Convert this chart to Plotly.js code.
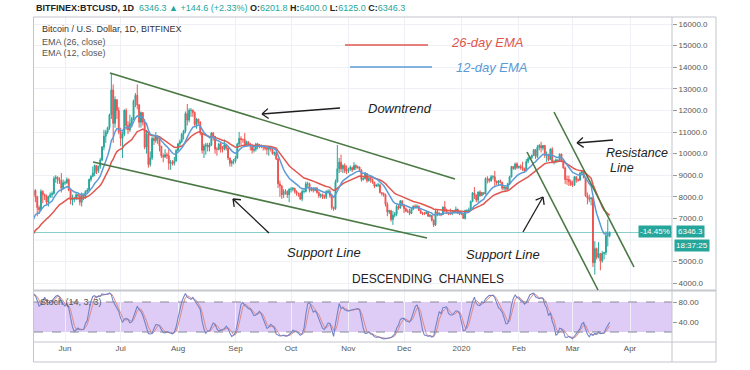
<!DOCTYPE html>
<html><head><meta charset="utf-8">
<script src="https://cdn.plot.ly/plotly-3.0.1.min.js"></script>
<style>html,body{margin:0;padding:0;background:#fff}#chart{width:750px;height:370px}</style>
</head><body><div id="chart"></div>
<script>
// ---------- DATA (daily BITFINEX BTCUSD) ----------
const startDate = '2019-04-01';
const firstOpen = 4100;
const closes = [
// Apr 2019
4150,4890,4980,4920,5050,5060,5200,5300,5190,5330,5030,5080,5080,5170,5040,5210,5250,5300,5290,5330,5300,5400,5560,5430,5250,5350,5400,5380,5360,5500,
// May
5520,5580,5850,5960,5900,5850,6050,6250,6450,6500,7150,7050,7900,8100,8300,8000,7500,7400,8250,8100,8050,7750,8000,8100,8150,8850,8900,8800,8750,8400,8650,
// Jun
8650,8800,8300,7850,7900,7900,8100,8050,7750,8100,8000,8250,8300,8800,8950,9100,9450,9200,9400,9700,10300,10800,11000,11200,11800,12950,11400,12500,12000,11000,
// Jul
10700,10900,12000,11300,11100,11400,11600,12450,12700,12250,11450,11900,11450,10300,10900,9500,9800,10700,10600,10800,10650,10350,9900,9850,9950,9900,9550,9600,9550,9650,10150,
// Aug
10450,10550,10900,11050,11850,11550,12000,12000,11900,11350,11600,11450,10950,10150,10350,10400,10300,10400,10950,10800,10200,10200,10450,10200,10200,10400,10250,9800,9550,9650,9650,
// Sep
9800,10450,10700,10650,10650,10400,10550,10450,10380,10150,10200,10450,10400,10400,10350,10300,10250,10200,10300,10200,10000,10050,9750,8600,8500,8100,8250,8250,8100,8350,
// Oct
8350,8400,8250,8150,8150,7900,8250,8250,8600,8600,8300,8350,8300,8400,8200,8050,8100,8000,7980,8250,8250,8050,7500,7450,8700,9300,9600,9300,9450,9200,9200,
// Nov
9300,9350,9250,9450,9350,9380,9250,8800,8850,9080,8750,8850,8800,8680,8500,8530,8550,8200,8150,8100,7650,7300,7350,6950,7150,7200,7550,7480,7800,7600,
// Dec
7450,7330,7320,7230,7420,7570,7540,7560,7370,7250,7230,7220,7280,7100,7140,6920,6700,7320,7180,7220,7170,7530,7340,7280,7230,7230,7280,7350,7420,7250,7200,
// Jan 2020
7230,7000,7370,7380,7380,7790,8180,8080,7850,8220,8050,8200,8130,8840,8830,8740,8920,8930,8720,8650,8740,8670,8400,8440,8350,8620,8920,9400,9310,9520,9360,
// Feb
9400,9360,9300,9200,9630,9780,9820,9920,10180,9870,10290,10370,10260,10380,9920,9950,9720,10200,9620,9630,9710,9680,9980,9670,9340,8800,8800,8700,8560,
// Mar
8550,8930,8780,8770,9090,9170,8900,8050,7950,7900,7950,4950,5600,5200,5380,5030,5370,5420,6200,6201.8,6346.3
];
const highs = [
4180,4950,5100,5050,5080,5200,5250,5350,5320,5450,5340,5120,5130,5190,5200,5230,5310,5350,5330,5360,5350,5450,5600,5600,5450,5400,5450,5420,5400,5520,
5560,5620,5900,6050,6000,5950,6100,6300,6500,6600,7300,7500,8000,8200,8400,8350,8050,7600,8350,8300,8150,8100,8050,8200,8250,8950,9000,8950,8900,9100,8800,
8750,8900,8850,8350,8100,8000,8200,8150,8100,8200,8150,8300,8400,8850,9000,9400,9500,9400,9450,9800,10350,11100,11100,11250,11850,13700,13200,12650,12400,12150,
11200,11000,12050,12100,11500,11800,11700,12500,12800,13200,12300,11950,11900,11600,11100,11000,10100,10800,10800,11000,10850,10700,10350,10000,10200,10050,10200,9700,9700,9850,10200,
10500,10650,10950,11100,11950,12300,12100,12100,12050,11950,11650,11600,11500,10950,10450,10500,10500,10500,11000,11000,10800,10300,10500,10500,10350,10650,10400,10300,9800,9700,9750,
9900,10500,11000,10800,10700,10950,10600,10550,10500,10450,10300,10500,10500,10450,10400,10400,10350,10300,10350,10350,10200,10100,10100,9800,8750,8550,8350,8350,8300,8400,
8450,8450,8400,8300,8200,8200,8350,8350,8700,8700,8650,8450,8450,8450,8450,8250,8150,8150,8100,8300,8350,8350,8100,7550,8800,10400,9800,9950,9500,9550,9450,
9350,9450,9400,9600,9500,9450,9400,9250,8900,9150,9100,8900,8900,8850,8700,8600,8650,8600,8200,8200,8150,7750,7400,7400,7350,7300,7650,7650,7850,7850,
7650,7500,7420,7450,7500,7600,7650,7650,7600,7420,7300,7300,7350,7300,7200,7150,6950,7450,7400,7300,7250,7550,7800,7450,7300,7450,7350,7400,7550,7450,7350,
7260,7250,7400,7400,7500,7820,8220,8450,8100,8250,8300,8220,8200,8900,8950,8850,9000,9000,9200,8750,8760,8800,8690,8530,8450,8630,8980,9430,9430,9580,9600,
9450,9500,9620,9350,9750,9850,9880,9950,10200,10200,10400,10450,10550,10400,10400,10100,9990,10250,10300,9700,9780,9720,10000,9990,9680,9400,8980,8980,8800,
8750,8950,8950,8850,9150,9200,9200,8900,8200,8100,7980,7980,5950,5650,5900,5400,5500,5450,6400,6950,6400
];
const lows = [
4080,4150,4800,4850,4880,5000,5050,5150,5150,5170,4980,4950,5040,5040,5000,5030,5180,5230,5250,5270,5250,5280,5380,5400,5100,5200,5320,5340,5300,5340,
5450,5480,5550,5800,5820,5700,5820,6000,6200,6350,6450,6800,6950,7600,7900,7750,7100,7200,7350,7700,7850,7650,7550,7950,7950,8100,8650,8600,8600,8200,8350,
8550,8600,8250,7650,7600,7750,7850,7850,7600,7550,7850,7900,8150,8300,8700,8900,8950,9050,9100,9300,9650,10150,10500,10900,11100,11600,10500,11200,11600,10900,
10350,9800,10800,11100,10900,11000,11200,11550,12150,12050,11200,11200,11300,10200,10000,9350,9400,9700,10400,10500,10450,10100,9800,9600,9800,9750,9250,9250,9450,9450,9650,
10100,10350,10500,10650,10950,11300,11450,11700,11700,11250,11150,11350,10850,10000,9800,9950,10100,10100,10350,10600,10000,9900,10150,10050,10050,10150,10150,9700,9400,9400,9500,
9550,9750,10350,10400,10500,10300,10350,10350,10150,10000,10050,10100,10200,10250,10250,10150,10150,9950,9900,10100,9950,9900,9700,8400,8000,7900,7950,8100,7950,7750,
8200,8250,8150,8050,8000,7850,7800,8150,8200,8450,8200,8250,8200,8250,8150,7950,7950,7900,7900,7900,8150,7950,7400,7350,7400,8650,9100,9150,9100,9100,9050,
9100,9200,9150,9250,9250,9300,9150,8700,8750,8800,8650,8700,8650,8600,8400,8450,8450,8150,8050,8000,7550,7100,7200,6850,6700,7050,7100,7400,7450,7550,
7250,7300,7250,7150,7200,7380,7500,7500,7350,7200,7150,7150,7200,7070,7050,6850,6600,6650,7100,7120,7100,7160,7300,7200,7150,7150,7150,7250,7300,7200,7150,
7150,6980,6950,7280,7300,7350,7750,7900,7750,7730,8000,8050,8080,8130,8620,8650,8700,8800,8500,8550,8500,8620,8300,8280,8280,8330,8600,8900,9250,9240,9280,
9300,9250,9200,9100,9180,9550,9700,9750,9880,9750,9800,10150,10050,10150,9800,9600,9650,9700,9550,9500,9550,9600,9650,9600,9300,8600,8550,8500,8500,
8450,8500,8650,8700,8750,9000,8850,8000,7650,7750,7600,4750,4400,5100,5150,4600,4950,5100,5300,5700,6125
];
const monthTicks = ['2019-06-01','2019-07-01','2019-08-01','2019-09-01','2019-10-01','2019-11-01','2019-12-01','2020-01-01','2020-02-01','2020-03-01','2020-04-01'];
const monthLabels = ['Jun','Jul','Aug','Sep','Oct','Nov','Dec','2020','Feb','Mar','Apr'];
// 6000.0 is hidden behind the last-price label in the reference
const priceTicks = [4000,5000,7000,8000,9000,10000,11000,12000,13000,14000,15000,16000];
const hiddenPriceGrid = [6000];
const stochTicks = [40, 80];
const stochTickLabels = ['40.00', '80.00'];
const stochBand = [20, 80];
const emaSlowLen = 26, emaFastLen = 12;
const stochLen = 14, stochK = 3, stochD = 3;
const lastPrice = 6346.3;

// ---------- derived ----------
const t0 = Date.parse(startDate + 'T00:00:00Z');
const dates = closes.map((_, i) => new Date(t0 + i * 86400000).toISOString().slice(0, 10));
const opens = closes.map((c, i) => i === 0 ? firstOpen : closes[i - 1]);
const hi = highs.map((h, i) => Math.max(h, opens[i], closes[i]));
const lo = lows.map((l, i) => Math.min(l, opens[i], closes[i]));
function ema(arr, n) { const a = 2 / (n + 1); let e = arr[0]; return arr.map((v, i) => (e = i === 0 ? v : a * v + (1 - a) * e)); }
function sma(arr, n) {
  return arr.map((v, i) => {
    if (i < n - 1) return null; let s = 0;
    for (let j = i - n + 1; j <= i; j++) { if (arr[j] === null) return null; s += arr[j]; }
    return s / n;
  });
}
const rawK = closes.map((c, i) => {
  if (i < stochLen - 1) return null; let hh = -Infinity, ll = Infinity;
  for (let j = i - stochLen + 1; j <= i; j++) { hh = Math.max(hh, hi[j]); ll = Math.min(ll, lo[j]); }
  return (c - ll) / (hh - ll) * 100;
});
const kLine = sma(rawK, stochK);
const dLine = sma(kLine, stochD);
const ema26 = ema(closes, emaSlowLen);
const ema12 = ema(closes, emaFastLen);

// ---------- pixel helpers for decorations ----------
const L = 34, R = 672, T = 17, B = 342;
const px = x => (x - L) / (R - L);
const py = y => (B - y) / (B - T);
function seg(x0, y0, x1, y1, color, width, dash) {
  return { type: 'line', xref: 'paper', yref: 'paper', x0: px(x0), y0: py(y0), x1: px(x1), y1: py(y1),
    line: { color: color, width: width, dash: dash || 'solid' } };
}
function arrow(tx, ty, hx, hy) {
  const c = '#1e1e1e', w = 1.3;
  const dx = tx - hx, dy = ty - hy, len = Math.hypot(dx, dy);
  const ux = dx / len, uy = dy / len, a = 38 * Math.PI / 180, s = 8;
  const out = [seg(tx, ty, hx, hy, c, w)];
  [a, -a].forEach(t => {
    const rx = ux * Math.cos(t) - uy * Math.sin(t), ry = ux * Math.sin(t) + uy * Math.cos(t);
    out.push(seg(hx, hy, hx + rx * s, hy + ry * s, c, w));
  });
  return out;
}
const green = '#4a7843';
const frame = '#c3c5cb';
const grid = '#eef0f5';
const shapes = [
  ...hiddenPriceGrid.map(v => ({ type: 'line', xref: 'paper', yref: 'y', x0: 0, x1: 1, y0: v, y1: v, line: { color: grid, width: 1 }, layer: 'below' })),
  { type: 'rect', xref: 'paper', yref: 'y2', x0: 0, x1: 1, y0: stochBand[0], y1: stochBand[1], fillcolor: '#decbf6', line: { width: 0 }, layer: 'below' },
  { type: 'line', xref: 'paper', yref: 'y2', x0: 0, x1: 1, y0: stochBand[1], y1: stochBand[1], line: { color: '#868a98', width: 1, dash: 'dash' } },
  { type: 'line', xref: 'paper', yref: 'y2', x0: 0, x1: 1, y0: stochBand[0], y1: stochBand[0], line: { color: '#868a98', width: 1, dash: 'dash' } },
  { type: 'line', xref: 'paper', yref: 'y', x0: 0, x1: 1, y0: lastPrice, y1: lastPrice, line: { color: 'rgba(38,166,154,0.55)', width: 1 } },
  // frame
  { type: 'rect', xref: 'paper', yref: 'paper', x0: px(33.5), x1: px(716), y0: py(362), y1: py(17), line: { color: frame, width: 1 } },
  seg(672, 17, 672, 362, frame, 1),
  seg(34, 290.5, 716, 290.5, '#c6c8cd', 2),
  seg(34, 342, 716, 342, frame, 1),
  // trend lines
  seg(110, 73, 455, 179, green, 1.6),
  seg(93, 162, 427, 238, green, 1.6),
  seg(527, 152, 598, 290, green, 1.6),
  seg(554, 112, 634, 267, green, 1.6),
  // EMA legend strokes
  seg(345, 45, 428, 45, '#e0574f', 1.5),
  seg(350, 67, 432, 67, '#5b9bd5', 1.5),
  ...arrow(340, 108, 262, 114),
  ...arrow(269, 233, 233, 199),
  ...arrow(523, 232, 543, 197),
  ...arrow(613, 140, 577, 143)
];
function note(text, x, y, opts) {
  return Object.assign({ text: text, xref: 'paper', yref: 'paper', x: px(x), y: py(y), showarrow: false,
    xanchor: 'left', yanchor: 'middle', font: { size: 9, color: '#333' } }, opts || {});
}
const teal = '#26a69a';
const sp = t => '<span style="color:' + teal + '">' + t + '</span>';
const annotations = [
  note('<b>BITFINEX:BTCUSD, 1D</b>  ' + sp('6346.3 ▲ +144.6 (+2.33%)') + ' <b>O:</b>' + sp('6201.8') + ' <b>H:</b>' + sp('6400.0') + ' <b>L:</b>' + sp('6125.0') + ' <b>C:</b>' + sp('6346.3'), 34, 7.5, { font: { size: 9, color: '#222' } }),
  note('Bitcoin / U.S. Dollar, 1D, BITFINEX', 40, 29, { font: { size: 9, color: '#333' } }),
  note('EMA (26, close)', 40, 42, { font: { size: 9, color: '#555' } }),
  note('EMA (12, close)', 40, 53, { font: { size: 9, color: '#555' } }),
  note('<i>26-day EMA</i>', 449, 43, { font: { size: 13, color: '#e0574f' } }),
  note('<i>12-day EMA</i>', 454, 67, { font: { size: 13, color: '#5b9bd5' } }),
  note('<i>Downtrend</i>', 400, 108, { xanchor: 'center', font: { size: 13, color: '#222' } }),
  note('<i>Support Line</i>', 324, 252, { xanchor: 'center', font: { size: 13, color: '#222' } }),
  note('<i>Support Line</i>', 503, 254, { xanchor: 'center', font: { size: 13, color: '#222' } }),
  note('<i>Resistance</i>', 604, 152.5, { font: { size: 12.5, color: '#222' } }),
  note('<i>Line</i>', 608, 168, { font: { size: 12.5, color: '#222' } }),
  note('DESCENDING  CHANNELS', 428, 279, { xanchor: 'center', font: { size: 12, color: '#222' } }),
  note('Stoch (14, 3, 3)', 38, 302, { font: { size: 9, color: '#555' } }),
  note('-14.45%', 655, 231.5, { xanchor: 'center', bgcolor: teal, borderpad: 1, font: { size: 8, color: '#fff' } }),
  note('6346.3', 690, 231.5, { xanchor: 'center', bgcolor: teal, borderpad: 1, font: { size: 8, color: '#fff' } }),
  note('18:37:25', 692, 245.5, { xanchor: 'center', bgcolor: teal, borderpad: 1, font: { size: 8, color: '#fff' } })
];

const traces = [
  { type: 'candlestick', x: dates, open: opens, high: hi, low: lo, close: closes, xaxis: 'x', yaxis: 'y',
    increasing: { line: { color: '#26a69a', width: 1 }, fillcolor: '#26a69a' },
    decreasing: { line: { color: '#ef5350', width: 1 }, fillcolor: '#ef5350' }, hoverinfo: 'skip' },
  { type: 'scatter', mode: 'lines', x: dates, y: ema26, xaxis: 'x', yaxis: 'y', line: { color: '#e0574f', width: 1.5 }, hoverinfo: 'skip' },
  { type: 'scatter', mode: 'lines', x: dates, y: ema12, xaxis: 'x', yaxis: 'y', line: { color: '#5b9bd5', width: 1.5 }, hoverinfo: 'skip' },
  { type: 'scatter', mode: 'lines', x: dates, y: dLine, xaxis: 'x', yaxis: 'y2', line: { color: '#dd8a86', width: 1 }, hoverinfo: 'skip' },
  { type: 'scatter', mode: 'lines', x: dates, y: kLine, xaxis: 'x', yaxis: 'y2', line: { color: '#7283c9', width: 1.1 }, hoverinfo: 'skip' }
];
const layout = {
  width: 750, height: 370, margin: { l: L, r: 750 - R, t: T, b: 370 - B },
  paper_bgcolor: '#fff', plot_bgcolor: '#fff', showlegend: false, hovermode: false,
  font: { family: 'Liberation Sans, Arial, sans-serif', size: 8, color: '#555' },
  xaxis: { type: 'date', range: ['2019-05-15 06:00', '2020-04-23 16:00'], anchor: 'y2',
    tickmode: 'array', tickvals: monthTicks, ticktext: monthLabels, showgrid: true, gridcolor: grid,
    ticks: '', tickfont: { size: 8, color: '#555' }, rangeslider: { visible: false }, showline: false, zeroline: false },
  yaxis: { domain: [52 / 325, 1], range: [3685, 16324], side: 'right', anchor: 'x', tickmode: 'array', tickvals: priceTicks,
    tickformat: '.1f', showgrid: true, gridcolor: grid, ticks: 'outside', ticklen: 4, tickcolor: '#999',
    tickfont: { size: 8, color: '#555' }, zeroline: false, showline: false },
  yaxis2: { domain: [0, 52 / 325], range: [0, 104], side: 'right', anchor: 'x', tickmode: 'array', tickvals: stochTicks,
    ticktext: stochTickLabels, showgrid: false, ticks: 'outside', ticklen: 4, tickcolor: '#999',
    tickfont: { size: 8, color: '#555' }, zeroline: false, showline: false },
  shapes: shapes, annotations: annotations
};
Plotly.newPlot('chart', traces, layout, { staticPlot: true, displayModeBar: false });
</script></body></html>
